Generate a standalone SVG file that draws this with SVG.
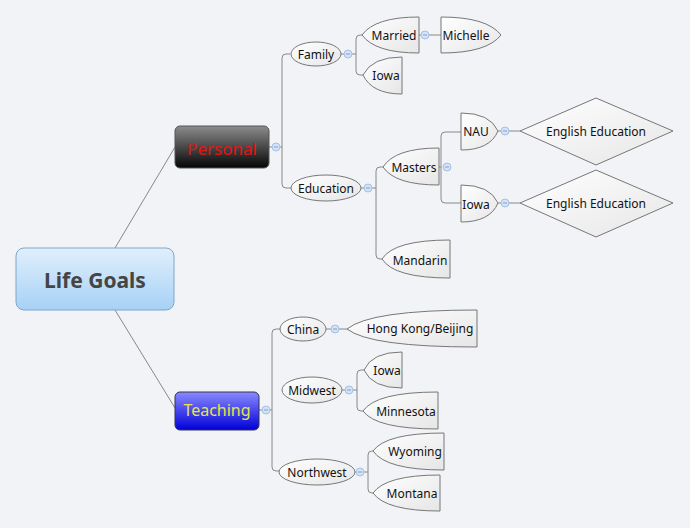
<svg xmlns="http://www.w3.org/2000/svg" width="690" height="528" viewBox="0 0 690 528">
<defs>
<linearGradient id="gRoot" x1="0" y1="0" x2="0" y2="1"><stop offset="0" stop-color="#e1effc"/><stop offset="1" stop-color="#a6d1f6"/></linearGradient>
<linearGradient id="gPers" x1="0" y1="0" x2="0" y2="1"><stop offset="0" stop-color="#8c8c8c"/><stop offset="1" stop-color="#050505"/></linearGradient>
<linearGradient id="gTeach" x1="0" y1="0" x2="0" y2="1"><stop offset="0" stop-color="#8a8aff"/><stop offset="1" stop-color="#0000d8"/></linearGradient>
<linearGradient id="gLeaf" x1="0" y1="0" x2="1" y2="1"><stop offset="0" stop-color="#ffffff"/><stop offset="1" stop-color="#e6e6e6"/></linearGradient>
</defs>
<style>
.t{font-family:"Noto Sans","Open Sans",sans-serif;font-size:12px;fill:#111;text-anchor:middle;dominant-baseline:central}
.leaf{fill:url(#gLeaf);stroke:#777;stroke-width:1}
.c{fill:none;stroke:#888;stroke-width:1}
.col{fill:#d3e2f5;stroke:#a4c0e2;stroke-width:1}
.m{stroke:#7fa3d3;stroke-width:1}
</style>
<rect width="690" height="528" fill="#f1f3f7"/>
<g id="connectors" class="c">
<path d="M115,248 L175,147"/>
<path d="M115,310 L175,408"/>
<path d="M269,147 H282 M290,54 H286 Q282,54 282,58 V184 Q282,188 286,188 H291"/>
<path d="M341,54 H356 M364,35 H360 Q356,35 356,39 V71 Q356,75 360,75 H364"/>
<path d="M419,35 H441"/>
<path d="M361,188 H376 M383,167 H380 Q376,167 376,171 V255 Q376,259 380,259 H382"/>
<path d="M439,167 H441 M461,132 H445 Q441,132 441,136 V199 Q441,203 445,203 H461"/>
<path d="M498,131 H520 M498,203 H520"/>
<path d="M259,410 H272 M280,329 H276 Q272,329 272,333 V467 Q272,471 276,471 H279"/>
<path d="M326,329 H347"/>
<path d="M342,390 H357 M364,370 H361 Q357,370 357,374 V407 Q357,411 361,411 H363"/>
<path d="M355,472 H368 M373,451 H372 Q368,451 368,455 V489 Q368,493 372,493 H373"/>
</g>
<g id="root"><rect x="16" y="248" width="158" height="62" rx="8" fill="url(#gRoot)" stroke="#7fa6c8"/><text x="95" y="280" class="t" style="font-size:21px;font-weight:bold;fill:#454545">Life Goals</text></g>
<g id="personal"><rect x="175" y="126" width="94" height="42" rx="5" fill="url(#gPers)" stroke="#555"/><text x="222" y="148" class="t" style="font-size:17px;fill:#e01515">Personal</text></g>
<g id="teaching"><rect x="175" y="392" width="84" height="38" rx="5" fill="url(#gTeach)" stroke="#335"/><text x="217" y="410" class="t" style="font-size:16px;fill:#e6e64a">Teaching</text></g>
<g id="family"><ellipse cx="316" cy="54" rx="25" ry="12" class="leaf"/><text x="316" y="54" class="t">Family</text></g>
<g id="married"><path d="M362,35 Q375,17 419,17 V53 Q375,53 362,35 Z" class="leaf"/><text x="394" y="35" class="t">Married</text></g>
<g id="michelle"><path d="M441,17 Q487,17 501,35 Q487,53 441,53 Z" class="leaf"/><text x="466" y="35" class="t">Michelle</text></g>
<g id="iowa1"><path d="M363,75 Q372,57 402,57 V94 Q372,94 363,75 Z" class="leaf"/><text x="386" y="75" class="t">Iowa</text></g>
<g id="education"><ellipse cx="326" cy="188" rx="35" ry="13" class="leaf"/><text x="326" y="188" class="t">Education</text></g>
<g id="masters"><path d="M383,167 Q395,148 439,148 V185 Q395,185 383,167 Z" class="leaf"/><text x="414" y="167" class="t">Masters</text></g>
<g id="nau"><path d="M461,113 Q490,113 498,131 Q490,150 461,150 Z" class="leaf"/><text x="476" y="131" class="t">NAU</text></g>
<g id="eng1"><path d="M520,131 L596,98 L673,131 L596,165 Z" class="leaf"/><text x="596" y="131" class="t">English Education</text></g>
<g id="iowa2"><path d="M461,185 Q490,185 498,203 Q490,222 461,222 Z" class="leaf"/><text x="476" y="204" class="t">Iowa</text></g>
<g id="eng2"><path d="M520,203 L596,170 L673,203 L596,237 Z" class="leaf"/><text x="596" y="203" class="t">English Education</text></g>
<g id="mandarin"><path d="M382,259 Q394,240 450,240 V278 Q394,278 382,259 Z" class="leaf"/><text x="420" y="260" class="t">Mandarin</text></g>
<g id="china"><ellipse cx="303" cy="329" rx="23" ry="12" class="leaf"/><text x="303" y="329" class="t">China</text></g>
<g id="hk"><path d="M347,329 Q370,310 477,310 V347 Q370,347 347,329 Z" class="leaf"/><text x="420" y="328" class="t">Hong Kong/Beijing</text></g>
<g id="midwest"><ellipse cx="312" cy="390" rx="30" ry="13" class="leaf"/><text x="312" y="390" class="t">Midwest</text></g>
<g id="iowa3"><path d="M364,370 Q372,352 402,352 V388 Q372,388 364,370 Z" class="leaf"/><text x="387" y="370" class="t">Iowa</text></g>
<g id="minnesota"><path d="M363,411 Q376,392 438,392 V429 Q376,429 363,411 Z" class="leaf"/><text x="406" y="411" class="t">Minnesota</text></g>
<g id="northwest"><ellipse cx="317" cy="472" rx="38" ry="13" class="leaf"/><text x="317" y="472" class="t">Northwest</text></g>
<g id="wyoming"><path d="M373,451 Q386,433 444,433 V470 Q386,470 373,451 Z" class="leaf"/><text x="415" y="451" class="t">Wyoming</text></g>
<g id="montana"><path d="M373,493 Q386,475 440,475 V511 Q386,511 373,493 Z" class="leaf"/><text x="412" y="493" class="t">Montana</text></g>
<g id="collapsers">
<circle cx="276" cy="147" r="4" class="col"/><path d="M274,147 H278" class="m"/>
<circle cx="348" cy="54" r="4" class="col"/><path d="M346,54 H350" class="m"/>
<circle cx="425" cy="35" r="4" class="col"/><path d="M423,35 H427" class="m"/>
<circle cx="368" cy="188" r="4" class="col"/><path d="M366,188 H370" class="m"/>
<circle cx="447" cy="167" r="4" class="col"/><path d="M445,167 H449" class="m"/>
<circle cx="505" cy="131" r="4" class="col"/><path d="M503,131 H507" class="m"/>
<circle cx="505" cy="203" r="4" class="col"/><path d="M503,203 H507" class="m"/>
<circle cx="266" cy="410" r="4" class="col"/><path d="M264,410 H268" class="m"/>
<circle cx="335" cy="329" r="4" class="col"/><path d="M333,329 H337" class="m"/>
<circle cx="349" cy="390" r="4" class="col"/><path d="M347,390 H351" class="m"/>
<circle cx="360" cy="472" r="4" class="col"/><path d="M358,472 H362" class="m"/>
</g>
</svg>
